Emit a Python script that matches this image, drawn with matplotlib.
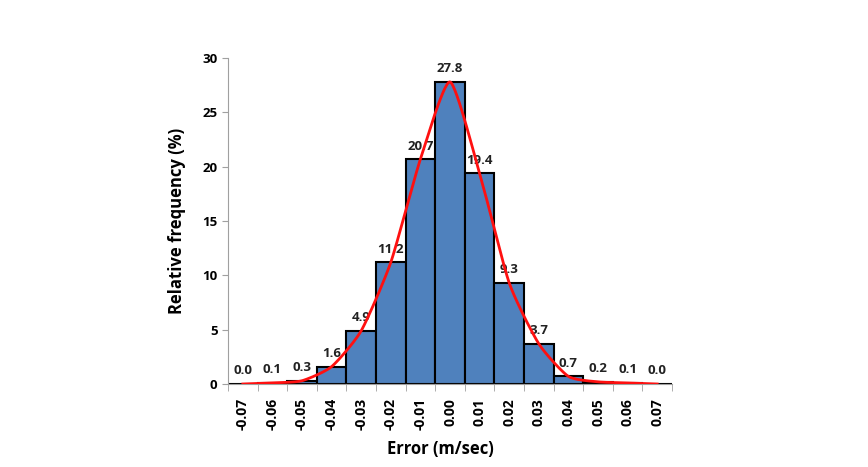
import numpy as np
import matplotlib
matplotlib.use('Agg')
import matplotlib.pyplot as plt

# datos del histograma
etiquetas = ['-0.07', '-0.06', '-0.05', '-0.04', '-0.03', '-0.02', '-0.01', '0.00',
             '0.01', '0.02', '0.03', '0.04', '0.05', '0.06', '0.07']
frecuencia = [0.0, 0.1, 0.3, 1.6, 4.9, 11.2, 20.7, 27.8, 19.4, 9.3, 3.7, 0.7, 0.2, 0.1, 0.0]

plt.rcParams['font.family'] = ['Open Sans', 'DejaVu Sans']

fig = plt.figure(figsize=(8.68, 4.67), dpi=100)
ax = fig.add_axes([0.2627, 0.1777, 0.5115, 0.6981])

x = np.arange(len(frecuencia))
ax.bar(x, frecuencia, width=1.0, color='#4F81BD', edgecolor='black', linewidth=1.5, zorder=2)

# curva suavizada que pasa por los valores (tipo Excel, tension reducida)
px = np.concatenate([[x[0]], x, [x[-1]]]).astype(float)
py = np.concatenate([[frecuencia[0]], frecuencia, [frecuencia[-1]]])
cx, cy = [], []
t = np.linspace(0, 1, 30)
k = 0.3
for i in range(1, len(px) - 2):
    p0, p1, p2, p3 = [np.array([px[j], py[j]]) for j in (i - 1, i, i + 1, i + 2)]
    m1 = (p2 - p0) * k
    m2 = (p3 - p1) * k
    h00 = 2 * t**3 - 3 * t**2 + 1
    h10 = t**3 - 2 * t**2 + t
    h01 = -2 * t**3 + 3 * t**2
    h11 = t**3 - t**2
    seg = np.outer(h00, p1) + np.outer(h10, m1) + np.outer(h01, p2) + np.outer(h11, m2)
    cx.extend(seg[:, 0])
    cy.extend(seg[:, 1])
ax.plot(cx, cy, color='#FF1010', linewidth=2, zorder=3)

for xi, v in zip(x, frecuencia):
    ax.text(xi, v + 0.6, f'{v:.1f}', ha='center', va='bottom', fontsize=9.5,
            fontweight='bold', color='#222222', zorder=1)

ax.set_xlim(-0.5, len(frecuencia) - 0.5)
ax.set_ylim(0, 30)
ax.set_yticks(range(0, 31, 5))
ax.set_xticks(x)
ax.set_xticklabels(etiquetas, rotation=90, fontsize=10, fontweight='bold')
ax.set_xticks(np.arange(-0.5, len(frecuencia)), minor=True)
ax.tick_params(axis='x', which='major', length=0, pad=10)
ax.tick_params(axis='x', which='minor', length=5, color='#A0A0A0', direction='out')
ax.tick_params(axis='y', length=4, color='#A0A0A0', labelsize=9.5)
for lbl in ax.get_yticklabels():
    lbl.set_fontweight('bold')

for s in ['top', 'right']:
    ax.spines[s].set_visible(False)
for s in ['left', 'bottom']:
    ax.spines[s].set_color('#A0A0A0')

ax.set_ylabel('Relative frequency (%)', fontsize=12, fontweight='bold', labelpad=12)
ax.set_xlabel('Error (m/sec)', fontsize=12, fontweight='bold', labelpad=4)
ax.xaxis.set_label_coords(0.478, -0.172)

fig.savefig('out.png', dpi=100)
